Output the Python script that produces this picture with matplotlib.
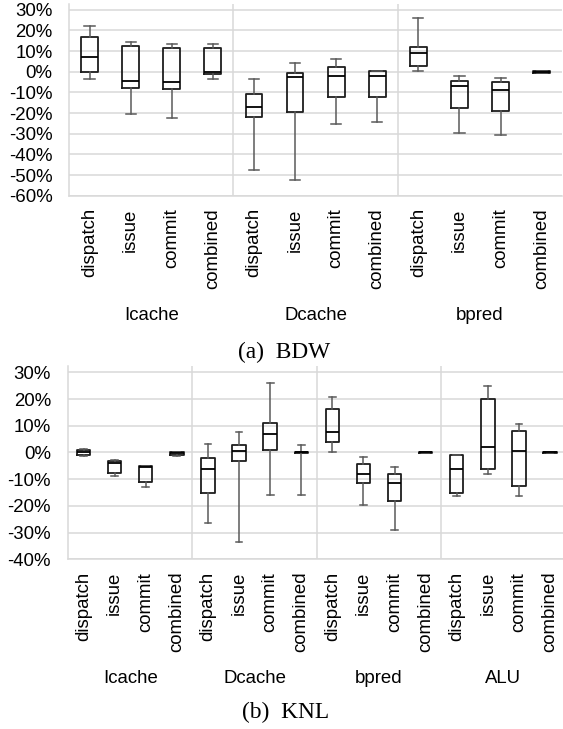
import matplotlib
matplotlib.use("Agg")
import matplotlib.pyplot as plt
from matplotlib.ticker import FuncFormatter

plt.rcParams['font.family'] = ['Liberation Sans', 'DejaVu Sans']

stages = ["dispatch", "issue", "commit", "combined"]

# ---- BDW: relative error (%) per structure / stage ----
bdw_groups = ["Icache", "Dcache", "bpred"]
bdw_whislo = [-3.4, -20.5, -22.5, -3.4, -47.6, -52.3, -25.1, -24.1, 0.2, -29.6, -30.6, -0.4]
bdw_q1     = [0.0, -7.9, -8.6, -1.0, -22.0, -19.7, -12.0, -12.0, 2.6, -17.8, -18.9, -0.4]
bdw_med    = [7.3, -4.4, -5.2, 0.0, -17.1, -2.8, -2.3, -2.3, 9.1, -7.1, -8.7, 0.0]
bdw_q3     = [16.8, 12.5, 11.3, 11.3, -11.0, -0.6, 2.1, 0.2, 11.8, -4.5, -5.2, 0.3]
bdw_whishi = [22.0, 14.4, 13.4, 13.4, -3.7, 4.2, 6.0, 0.2, 26.0, -2.3, -2.9, 0.3]

# ---- KNL ----
knl_groups = ["Icache", "Dcache", "bpred", "ALU"]
knl_whislo = [-1.2, -8.7, -12.8, -1.2, -26.5, -33.6, -15.8, -15.8, 0.0, -19.7, -28.9, -0.2, -16.2, -8.0, -16.2, -0.1]
knl_q1     = [-1.0, -7.7, -11.1, -1.1, -15.2, -3.2, 0.9, -0.2, 3.9, -11.6, -18.0, -0.2, -15.0, -6.2, -12.4, -0.1]
knl_med    = [0.0, -3.8, -5.6, -0.1, -6.2, 0.7, 7.0, 0.0, 7.6, -8.0, -11.4, 0.0, -6.1, 2.1, 0.5, 0.0]
knl_q3     = [1.0, -3.2, -5.2, 0.0, -1.9, 2.8, 11.2, 0.1, 16.4, -4.5, -8.2, 0.2, -0.9, 20.0, 8.2, 0.1]
knl_whishi = [1.2, -3.0, -5.0, 0.1, 3.1, 7.5, 26.1, 2.6, 20.9, -1.7, -5.6, 0.2, -0.9, 24.9, 10.7, 0.1]

GRID = '#d9d9d9'
W, H = 563, 729


def draw_panel(rect, groups, lo, q1, med, q3, hi, ymin, ytop, yticks,
               box_w, cap_w, ylab_pad):
    ax = fig.add_axes(rect)
    n = len(med)
    stats = [dict(whislo=lo[i], q1=q1[i], med=med[i], q3=q3[i],
                  whishi=hi[i], fliers=[]) for i in range(n)]
    ax.bxp(stats, positions=list(range(n)), widths=box_w, capwidths=cap_w,
           showfliers=False, patch_artist=False,
           boxprops=dict(color='#1e1e1e', linewidth=1.3),
           medianprops=dict(color='#000000', linewidth=1.3),
           whiskerprops=dict(color='#5a5a5a', linewidth=1.1),
           capprops=dict(color='#5a5a5a', linewidth=1.1))
    ax.set_xlim(-0.5, n - 0.5)
    ax.set_ylim(ymin, ytop)
    ax.set_yticks(yticks)
    ax.yaxis.set_major_formatter(FuncFormatter(lambda v, p: f"{v:.0f}%"))
    ax.grid(axis='y', color=GRID, linewidth=1.1, zorder=0)
    ax.set_axisbelow(True)
    for s in ('top', 'right'):
        ax.spines[s].set_visible(False)
    for s in ('left', 'bottom'):
        ax.spines[s].set_color(GRID)
        ax.spines[s].set_linewidth(1.1)
    for k in range(1, len(groups)):
        ax.axvline(4 * k - 0.5, color=GRID, linewidth=1.1, zorder=0)
    ax.set_xticks(list(range(n)))
    ax.set_xticklabels(stages * len(groups), rotation=90, fontsize=13.4)
    ax.tick_params(axis='x', length=0, pad=9)
    ax.tick_params(axis='y', length=0, pad=ylab_pad, labelsize=13.4)
    for g, name in enumerate(groups):
        ax.annotate(name, xy=(4 * g + 1.5, 0), xycoords=('data', 'axes fraction'),
                    xytext=(0, -86), textcoords='offset points',
                    ha='center', va='center', fontsize=13.4)
    return ax


fig = plt.figure(figsize=(W / 100, H / 100), dpi=100)

# top panel: BDW
top_px, bot_px, left_px, width_px = 4, 195.7, 69, 12 * 41.1
draw_panel([left_px / W, 1 - bot_px / H, width_px / W, (bot_px - top_px) / H],
           bdw_groups, bdw_whislo, bdw_q1, bdw_med, bdw_q3, bdw_whishi,
           -60, 30 + 5.7 / 2.06, list(range(-60, 31, 10)), 0.41, 0.25, 11.7)

# bottom panel: KNL
top_px, bot_px, left_px, width_px = 366, 559.3, 68, 16 * 31.1
draw_panel([left_px / W, 1 - bot_px / H, width_px / W, (bot_px - top_px) / H],
           knl_groups, knl_whislo, knl_q1, knl_med, knl_q3, knl_whishi,
           -40, 30 + 6.3 / 2.67, list(range(-40, 31, 10)), 0.43, 0.22, 12.2)

fig.text(284 / W, 1 - 352 / H, "(a)  BDW", ha='center', va='center',
         fontsize=16.8, family=['Liberation Serif', 'DejaVu Serif'])
fig.text(286 / W, 1 - 712 / H, "(b)  KNL", ha='center', va='center',
         fontsize=16.8, family=['Liberation Serif', 'DejaVu Serif'])

fig.savefig("out.png", dpi=100)
